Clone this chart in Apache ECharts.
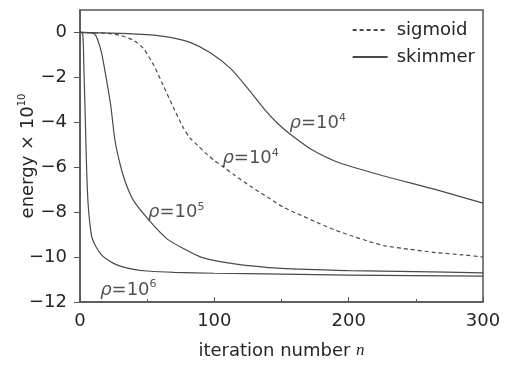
<!DOCTYPE html>
<html>
<head>
<meta charset="utf-8">
<script src="https://cdn.jsdelivr.net/npm/echarts@6/dist/echarts.min.js"></script>
<style>
  html, body { margin: 0; padding: 0; background: #fff; }
  #chart { width: 506px; height: 367px; }
</style>
</head>
<body>
<div id="chart"></div>
<script>
// sigmoid, rho = 10^4 (dashed)
const nSig = [0, 20, 30, 40, 47, 55, 62, 70, 77, 82, 88, 95, 100, 107, 115, 127, 140, 152, 165, 178, 190, 202, 215, 227, 245, 265, 285, 300];
const eSig = [0, -0.04, -0.13, -0.36, -0.7, -1.47, -2.36, -3.4, -4.25, -4.7, -5.05, -5.45, -5.7, -6.0, -6.35, -6.85, -7.35, -7.8, -8.15, -8.5, -8.8, -9.05, -9.3, -9.5, -9.65, -9.8, -9.9, -10.0];

// skimmer, rho = 10^4
const nSk4 = [0, 30, 50, 67, 82, 97, 112, 125, 137, 148, 158, 172, 193, 227, 265, 300];
const eSk4 = [0, -0.04, -0.1, -0.22, -0.44, -0.9, -1.6, -2.5, -3.4, -4.1, -4.6, -5.2, -5.8, -6.4, -7.0, -7.6];

// skimmer, rho = 10^5
const nSk5 = [0, 8, 11, 13, 16, 20, 23, 26, 30, 34, 40, 52, 65, 78, 90, 115, 150, 200, 250, 300];
const eSk5 = [0, -0.02, -0.08, -0.3, -0.9, -2.2, -3.3, -4.8, -5.9, -6.7, -7.5, -8.4, -9.2, -9.65, -10.0, -10.3, -10.5, -10.6, -10.65, -10.7];

// skimmer, rho = 10^6
const nSk6 = [0, 2, 3, 4, 5, 6, 7.5, 9, 12, 16, 20, 25, 30, 40, 50, 70, 100, 150, 200, 300];
const eSk6 = [0, -0.05, -1.8, -4.0, -6.2, -7.6, -8.6, -9.15, -9.55, -9.9, -10.1, -10.28, -10.4, -10.55, -10.62, -10.68, -10.72, -10.76, -10.8, -10.85];

// curve annotations: [n, energy, exponent]
const curveLabels = [
  [156, -4.05, '4'],
  [106, -5.6, '4'],
  [50.6, -8.0, '5'],
  [15, -11.47, '6']
];

const yTicks = [-12, -10, -8, -6, -4, -2, 0];

const zip = (xs, ys) => xs.map((x, i) => [x, ys[i]]);

const lineColor = '#4a4a4a';
const textColor = '#262626';
const font = 'DejaVu Sans';

const chart = echarts.init(document.getElementById('chart'));

const curve = (name, data, type) => ({
  name: name,
  type: 'line',
  data: data,
  symbol: 'none',
  smooth: 0.25,
  silent: true,
  lineStyle: { color: lineColor, width: 1.2, type: type },
  itemStyle: { color: lineColor }
});

chart.setOption({
  animation: false,
  backgroundColor: '#fff',
  textStyle: { fontFamily: font, color: textColor },
  grid: {
    left: 80, right: 23, top: 10, bottom: 65,
    outerBoundsMode: 'none',
    show: true, borderColor: '#555', borderWidth: 1.5
  },
  legend: {
    data: ['sigmoid', 'skimmer'],
    orient: 'vertical',
    right: 26,
    top: 16,
    itemWidth: 35,
    itemHeight: 14,
    itemGap: 9,
    itemStyle: { opacity: 0 },
    textStyle: { fontFamily: font, fontSize: 18, color: textColor, lineHeight: 18, padding: [0, 0, 0, 4] }
  },
  xAxis: {
    type: 'value',
    min: 0, max: 300, interval: 100,
    name: 'iteration number {n|n}',
    nameLocation: 'middle',
    nameGap: 40,
    nameMoveOverlap: false,
    nameTextStyle: {
      fontFamily: font, fontSize: 18, color: textColor,
      rich: { n: { fontFamily: 'Liberation Serif', fontStyle: 'italic', fontSize: 17, color: textColor } }
    },
    axisLine: { onZero: false, lineStyle: { color: '#555', width: 1.5 } },
    axisTick: { inside: true, length: 5, lineStyle: { color: '#555' } },
    minorTick: { show: true, splitNumber: 2, length: 3, lineStyle: { color: '#555' } },
    axisLabel: { fontFamily: font, fontSize: 18, color: textColor, margin: 10 },
    splitLine: { show: false }
  },
  yAxis: {
    type: 'value',
    min: -12, max: 1, interval: 2,
    name: '{t|energy × 10}{s|10}',
    nameLocation: 'middle',
    nameGap: 41,
    nameRotate: 90,
    nameMoveOverlap: false,
    nameTextStyle: {
      rich: {
        t: { fontFamily: font, fontSize: 18, color: textColor, lineHeight: 22 },
        s: { fontFamily: font, fontSize: 10, color: textColor, lineHeight: 12, verticalAlign: 'top' }
      }
    },
    axisLine: { onZero: false, lineStyle: { color: '#555', width: 1.5 } },
    axisTick: { inside: false, length: 6, customValues: yTicks, lineStyle: { color: '#555' } },
    axisLabel: {
      fontFamily: font, fontSize: 18, color: textColor, margin: 13,
      customValues: yTicks,
      formatter: v => String(v).replace('-', '−')
    },
    splitLine: { show: false }
  },
  series: [
    curve('sigmoid', zip(nSig, eSig), [4, 3]),
    curve('skimmer', zip(nSk4, eSk4), 'solid'),
    curve('skimmer', zip(nSk5, eSk5), 'solid'),
    curve('skimmer', zip(nSk6, eSk6), 'solid'),
    {
      name: 'annotations',
      type: 'scatter',
      silent: true,
      symbolSize: 0,
      data: curveLabels.map(d => ({ value: [d[0], d[1]], exp: d[2] })),
      label: {
        show: true,
        position: 'right',
        distance: 0,
        formatter: p => '{r|ρ}{t|=10}{s|' + p.data.exp + '}',
        rich: {
          r: { fontFamily: font, fontStyle: 'italic', fontSize: 18, color: textColor, lineHeight: 22 },
          t: { fontFamily: font, fontSize: 18, color: textColor, lineHeight: 22 },
          s: { fontFamily: font, fontSize: 11, color: textColor, lineHeight: 13, verticalAlign: 'top' }
        }
      }
    }
  ]
});
</script>
</body>
</html>
